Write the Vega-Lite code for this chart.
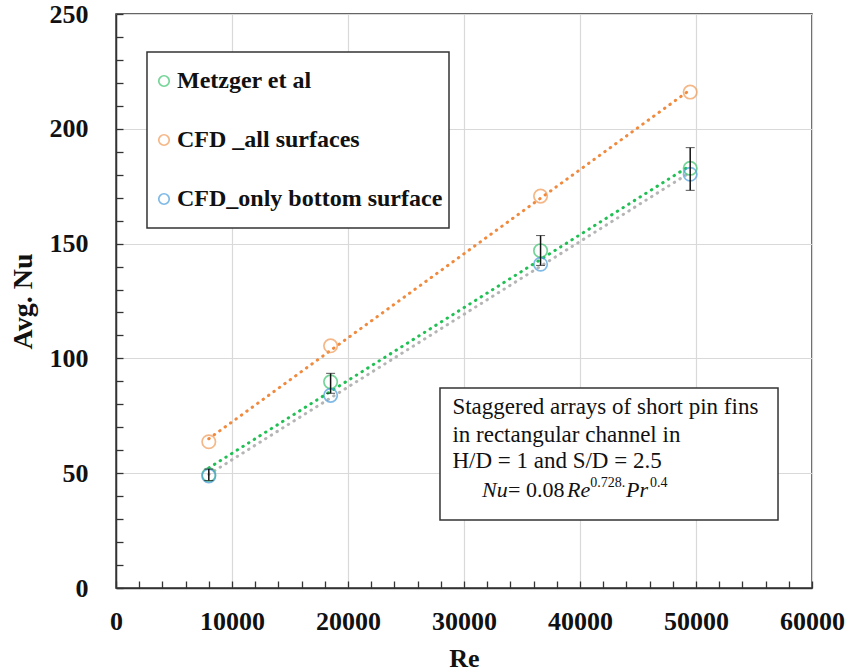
{
  "$schema": "https://vega.github.io/schema/vega-lite/v6.json",
  "width": 696,
  "height": 574,
  "autosize": {"type": "none"},
  "padding": {"left": 116, "top": 14, "right": 40, "bottom": 83},
  "background": "white",
  "datasets": {
    "pts": [
      {"series": "Metzger et al", "Re": 8000, "Nu": 49.3},
      {"series": "Metzger et al", "Re": 18500, "Nu": 89.8},
      {"series": "Metzger et al", "Re": 36600, "Nu": 146.9},
      {"series": "Metzger et al", "Re": 49500, "Nu": 182.8},
      {"series": "CFD _all surfaces", "Re": 8000, "Nu": 63.7},
      {"series": "CFD _all surfaces", "Re": 18500, "Nu": 105.5},
      {"series": "CFD _all surfaces", "Re": 36600, "Nu": 170.7},
      {"series": "CFD _all surfaces", "Re": 49500, "Nu": 216.0},
      {"series": "CFD_only bottom surface", "Re": 8000, "Nu": 48.8},
      {"series": "CFD_only bottom surface", "Re": 18500, "Nu": 83.9},
      {"series": "CFD_only bottom surface", "Re": 36600, "Nu": 141.0},
      {"series": "CFD_only bottom surface", "Re": 49500, "Nu": 180.2}
    ],
    "trend": [
      {"trend": "green", "Re": 8000, "Nu": 52.3},
      {"trend": "green", "Re": 49500, "Nu": 184.0},
      {"trend": "orange", "Re": 8000, "Nu": 65.0},
      {"trend": "orange", "Re": 49500, "Nu": 217.0},
      {"trend": "gray", "Re": 8000, "Nu": 49.5},
      {"trend": "gray", "Re": 49500, "Nu": 181.0}
    ],
    "err": [
      {"Re": 8000, "lo": 46.8, "hi": 51.8},
      {"Re": 18500, "lo": 84.8, "hi": 93.5},
      {"Re": 36600, "lo": 140.5, "hi": 153.5},
      {"Re": 49500, "lo": 173.2, "hi": 191.8}
    ],
    "boxes": [
      {"box": "legend", "Re": 2672, "Re2": 28707, "Nu": 156.8, "Nu2": 233.4},
      {"box": "note", "Re": 27930, "Re2": 57070, "Nu": 29.6, "Nu2": 87.1}
    ],
    "note": [
      {"t": "Staggered arrays of short pin fins", "Re": 29000, "Nu": 75.8},
      {"t": "in rectangular channel in", "Re": 29000, "Nu": 63.8},
      {"t": "H/D = 1 and S/D = 2.5", "Re": 29000, "Nu": 52.3}
    ],
    "formulaItalic": [
      {"t": "Nu", "Re": 31552, "Nu": 39.6},
      {"t": "Re", "Re": 38879, "Nu": 39.6},
      {"t": "Pr", "Re": 43966, "Nu": 39.6}
    ],
    "formulaPlain": [
      {"t": "=", "Re": 33793, "Nu": 39.6},
      {"t": "0.08", "Re": 35345, "Nu": 39.6}
    ],
    "formulaSup": [
      {"t": "0.728.", "Re": 40880, "Nu": 44.2},
      {"t": "0.4", "Re": 46030, "Nu": 44.2}
    ]
  },
  "encoding": {
    "x": {
      "field": "Re", "type": "quantitative",
      "scale": {"domain": [0, 60000], "nice": false, "zero": false},
      "axis": {
        "title": "Re",
        "values": [0,2000,4000,6000,8000,10000,12000,14000,16000,18000,20000,22000,24000,26000,28000,30000,32000,34000,36000,38000,40000,42000,44000,46000,48000,50000,52000,54000,56000,58000,60000],
        "format": "d",
        "labelExpr": "datum.value % 10000 === 0 ? datum.label : ''",
        "gridOpacity": {"condition": {"test": "datum.value % 10000 === 0", "value": 1}, "value": 0},
        "labelPadding": 27,
        "titlePadding": 11,
        "titleFontSize": 26
      }
    },
    "y": {
      "field": "Nu", "type": "quantitative",
      "scale": {"domain": [0, 250], "nice": false, "zero": false},
      "axis": {
        "title": "Avg. Nu",
        "values": [0,10,20,30,40,50,60,70,80,90,100,110,120,130,140,150,160,170,180,190,200,210,220,230,240,250],
        "labelExpr": "datum.value % 50 === 0 ? datum.label : ''",
        "gridOpacity": {"condition": {"test": "datum.value % 50 === 0", "value": 1}, "value": 0},
        "labelPadding": 35,
        "titlePadding": 12,
        "titleFontSize": 28
      }
    }
  },
  "layer": [
    {
      "data": {"name": "boxes"},
      "mark": {"type": "rect", "fill": "white", "stroke": "#333", "strokeWidth": 1.5},
      "encoding": {
        "x2": {"field": "Re2"},
        "y2": {"field": "Nu2"}
      }
    },
    {
      "data": {"name": "trend"},
      "mark": {"type": "line", "strokeWidth": 3, "strokeCap": "round", "strokeDash": [0.5, 6.2]},
      "encoding": {
        "detail": {"field": "trend"},
        "stroke": {"field": "trend", "type": "nominal", "scale": {"domain": ["green", "orange", "gray"], "range": ["#22bf55", "#f08a3e", "#b5b5b5"]}, "legend": null}
      }
    },
    {
      "data": {"name": "pts"},
      "mark": {"type": "point", "shape": "circle", "filled": false, "size": 180, "strokeWidth": 1.7},
      "encoding": {
        "color": {
          "field": "series", "type": "nominal",
          "scale": {"domain": ["Metzger et al", "CFD _all surfaces", "CFD_only bottom surface"], "range": ["#3cc46e", "#f29a55", "#4a9ddc"]},
          "legend": {
            "title": null,
            "orient": "none",
            "legendX": 36,
            "legendY": 55,
            "direction": "vertical",
            "padding": 0,
            "rowPadding": 35,
            "symbolSize": 110,
            "symbolStrokeWidth": 1.7,
            "symbolType": "circle",
            "labelFont": "Liberation Serif",
            "labelFontWeight": "bold",
            "labelFontSize": 24,
            "labelColor": "#111",
            "labelLimit": 400,
            "labelOffset": 1
          }
        }
      }
    },
    {
      "data": {"name": "err"},
      "mark": {"type": "errorbar", "ticks": {"color": "#111", "size": 9, "strokeWidth": 1.5}, "rule": {"color": "#111", "strokeWidth": 1.5}},
      "encoding": {
        "y": {"field": "lo", "type": "quantitative"},
        "y2": {"field": "hi"}
      }
    },
    {
      "data": {"name": "note"},
      "mark": {"type": "text", "align": "left", "baseline": "alphabetic", "font": "Liberation Serif", "fontSize": 23, "color": "#111"},
      "encoding": {
        "text": {"field": "t"}
      }
    },
    {
      "data": {"name": "formulaItalic"},
      "mark": {"type": "text", "align": "left", "baseline": "alphabetic", "font": "Liberation Serif", "fontStyle": "italic", "fontSize": 22, "color": "#111"},
      "encoding": {
        "text": {"field": "t"}
      }
    },
    {
      "data": {"name": "formulaPlain"},
      "mark": {"type": "text", "align": "left", "baseline": "alphabetic", "font": "Liberation Serif", "fontSize": 22, "color": "#111"},
      "encoding": {
        "text": {"field": "t"}
      }
    },
    {
      "data": {"name": "formulaSup"},
      "mark": {"type": "text", "align": "left", "baseline": "alphabetic", "font": "Liberation Serif", "fontSize": 14, "color": "#111"},
      "encoding": {
        "text": {"field": "t"}
      }
    }
  ],
  "config": {
    "view": {"stroke": "#333", "strokeWidth": 1.5},
    "axis": {
      "domainColor": "#333",
      "domainWidth": 1.5,
      "tickColor": "#333",
      "tickWidth": 1.3,
      "tickSize": -7,
      "gridColor": "#d9d9d9",
      "gridWidth": 1.2,
      "labelFont": "Liberation Serif",
      "labelFontWeight": "bold",
      "labelFontSize": 26,
      "labelColor": "#111",
      "titleFont": "Liberation Serif",
      "titleFontWeight": "bold",
      "titleColor": "#111",
      "labelFlush": false,
      "labelOverlap": false
    }
  }
}
